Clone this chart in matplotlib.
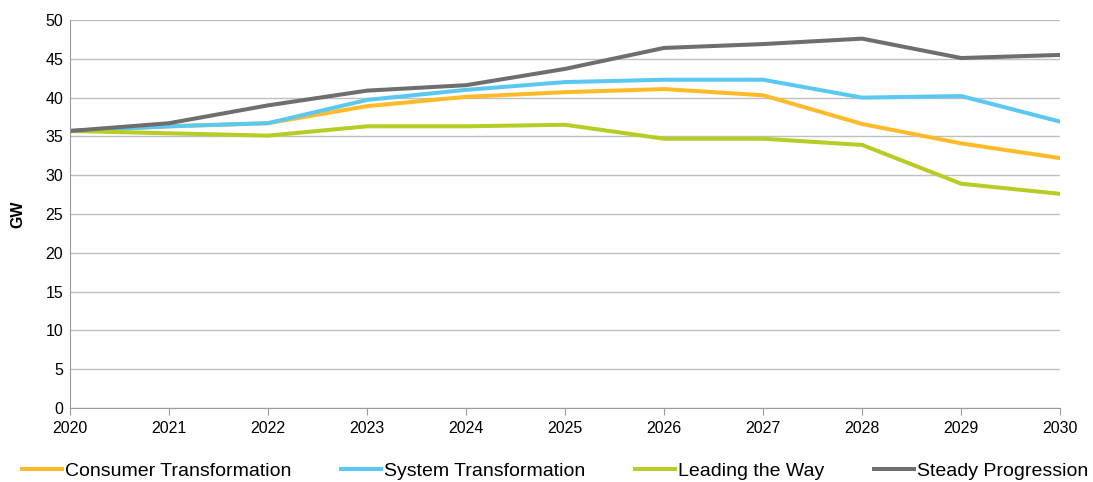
import numpy as np
import matplotlib.pyplot as plt

plt.rcParams['font.family'] = ['Liberation Sans', 'DejaVu Sans']

years = [2020, 2021, 2022, 2023, 2024, 2025, 2026, 2027, 2028, 2029, 2030]
consumer = [35.7, 36.3, 36.7, 38.9, 40.1, 40.7, 41.1, 40.3, 36.6, 34.1, 32.2]
system = [35.7, 36.3, 36.7, 39.7, 41.0, 42.0, 42.3, 42.3, 40.0, 40.2, 36.9]
leading = [35.7, 35.4, 35.1, 36.3, 36.3, 36.5, 34.7, 34.7, 33.9, 28.9, 27.6]
steady = [35.7, 36.7, 39.0, 40.9, 41.6, 43.7, 46.4, 46.9, 47.6, 45.1, 45.5]

names = ["Consumer Transformation", "System Transformation", "Leading the Way", "Steady Progression"]
colors = ["#FDBB2A", "#5BC8F2", "#B8CC25", "#6E6E6E"]

fig = plt.figure(figsize=(10.93, 4.82), dpi=100)
ax = fig.add_axes([0.064, 0.1535, 0.906, 0.805])

for vals, name, c in zip([consumer, system, leading, steady], names, colors):
    ax.plot(years, vals, color=c, lw=2.9, label=name)

ax.set_xlim(2020, 2030)
ax.set_ylim(0, 50)
ax.set_xticks(years)
ax.set_yticks(np.arange(0, 51, 5))
ax.yaxis.grid(True, color='#C0C0C0', lw=1)
ax.set_axisbelow(True)
for s in ['top', 'right']:
    ax.spines[s].set_visible(False)
ax.spines['left'].set_color('#9A9A9A')
ax.spines['bottom'].set_color('#9A9A9A')
ax.tick_params(axis='y', length=0, labelsize=11.5, pad=5)
ax.tick_params(axis='x', length=5, color='#9A9A9A', labelsize=11.5, pad=4)
ax.set_ylabel('GW', fontsize=11.5, fontweight='bold', labelpad=14)

fig.legend(loc='lower left', bbox_to_anchor=(0.013, -0.012, 0.99, 0.05), ncol=4, mode='expand',
           frameon=False, fontsize=14, handlelength=2.05, handletextpad=0.15, borderaxespad=0)

fig.savefig('out.png', dpi=100)
